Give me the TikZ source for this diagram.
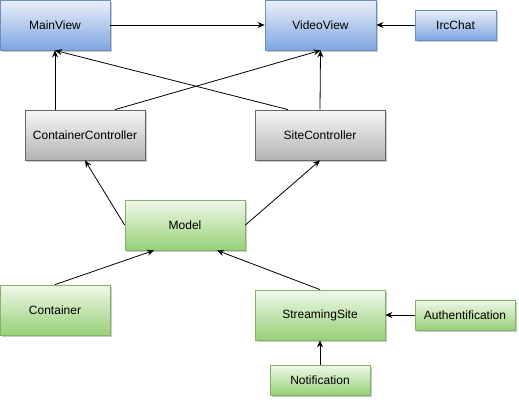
\documentclass[tikz,border=0pt]{standalone}
\usepackage{fontspec}
\setmainfont{Liberation Sans}
\usetikzlibrary{arrows.meta,shadows}

\definecolor{bluetop}{HTML}{EAF0FA}
\definecolor{bluebot}{HTML}{7EA6E0}
\definecolor{blueline}{HTML}{6C8EBF}
\definecolor{graytop}{HTML}{F7F7F7}
\definecolor{graybot}{HTML}{B3B3B3}
\definecolor{grayline}{HTML}{666666}
\definecolor{greentop}{HTML}{F0F8EA}
\definecolor{greenbot}{HTML}{97D077}
\definecolor{greenline}{HTML}{82B366}

\tikzset{
    box/.style={draw, line width=0.8pt, inner sep=0pt, font=\fontsize{12}{14}\selectfont,
        drop shadow={shadow xshift=2pt, shadow yshift=-2pt, fill=black!35, opacity=0.6}},
    viewbox/.style={box, draw=blueline, top color=bluetop, bottom color=bluebot},
    ctrlbox/.style={box, draw=grayline, top color=graytop, bottom color=graybot},
    modelbox/.style={box, draw=greenline, top color=greentop, bottom color=greenbot},
    arr/.style={-{Stealth[length=7pt,width=6pt]}, line width=0.8pt}
}

\begin{document}
\begin{tikzpicture}[x=1pt, y=-1pt]
        \useasboundingbox (0,0) rectangle (519,402);
        % views
        \node[viewbox, minimum width=110pt, minimum height=50pt] (mainview) at (55,25) {MainView};
        \node[viewbox, minimum width=111pt, minimum height=50pt] (videoview) at (320.5,25) {VideoView};
        \node[viewbox, minimum width=81pt, minimum height=30pt] (ircchat) at (455.5,25) {IrcChat};
        % controllers
        \node[ctrlbox, minimum width=120pt, minimum height=50pt] (containerctrl) at (85,135) {ContainerController};
        \node[ctrlbox, minimum width=130pt, minimum height=50pt] (sitectrl) at (320,135) {SiteController};
        % model
        \node[modelbox, minimum width=120pt, minimum height=50pt] (model) at (185,225) {Model};
        \node[modelbox, minimum width=110pt, minimum height=50pt] (container) at (55,310) {Container};
        \node[modelbox, minimum width=130pt, minimum height=50pt] (streamingsite) at (320,315) {StreamingSite};
        \node[modelbox, minimum width=100pt, minimum height=30pt] (authentif) at (465,315) {Authentification};
        \node[modelbox, minimum width=100pt, minimum height=30pt] (notification) at (320,380) {Notification};

        \draw[arr] (mainview) -- (videoview);
        \draw[arr] (ircchat) -- (videoview);
        \draw[arr] (mainview.south |- containerctrl.north) -- (mainview.south);
        \draw[arr] ([xshift=30pt]containerctrl.north) -- (videoview.south);
        \draw[arr] (sitectrl.north) -- (videoview.south);
        \draw[arr] ([xshift=-32pt]sitectrl.north) -- (mainview.south);
        \draw[arr] (model.west) -- (containerctrl.south);
        \draw[arr] (model.east) -- (sitectrl.south);
        \draw[arr] (container.north) -- ([xshift=-31pt]model.south);
        \draw[arr] (streamingsite.north) -- ([xshift=32pt]model.south);
        \draw[arr] (authentif) -- (streamingsite);
        \draw[arr] (notification) -- (streamingsite);
    \end{tikzpicture}
\end{document}
